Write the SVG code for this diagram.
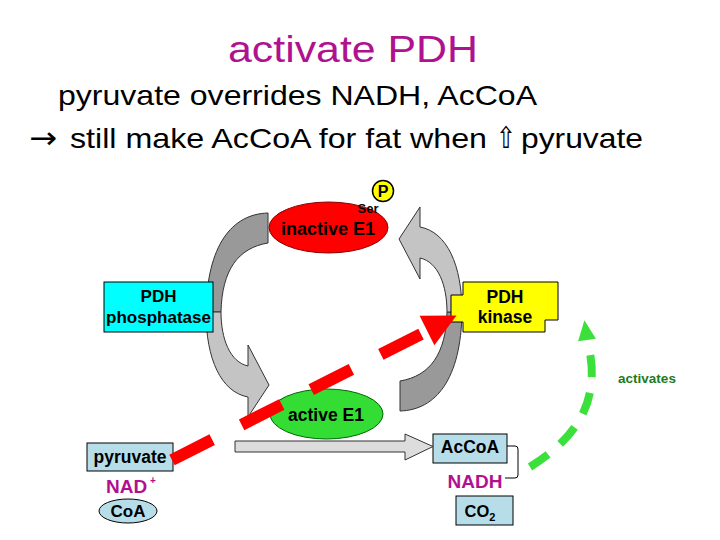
<svg xmlns="http://www.w3.org/2000/svg" width="720" height="540" viewBox="0 0 720 540">
<style>
text{font-family:"Liberation Sans",Arial,"DejaVu Sans",sans-serif}
.t{fill:#000;font-size:28px}
.b{font-weight:bold;fill:#000;text-anchor:middle}
.mag{fill:#B0128F}
.band{fill:#999999;stroke:#333;stroke-width:1}
.light{fill:#C4C4C4;stroke:#333;stroke-width:1}
.box{stroke:#000;stroke-width:1}
.blue{fill:#B7DEE8;stroke:#000;stroke-width:1}
</style>
<defs>
<path id="tlband" d="M268,213 C232,214 207,245 206,312 L221,312 C222,270 238,248 268,243 Z"/>
<path id="trarrow" d="M420,227 L420,207 L399,239 L420,279 L420,258 C438,262 447,285 447,312 L462,312 C462,265 447,232 420,227 Z"/>
</defs>
<rect width="720" height="540" fill="#fff"/>

<g id="title">
<text x="228" y="62" font-size="37" class="mag" textLength="250" lengthAdjust="spacingAndGlyphs">activate PDH</text>
<text x="58" y="105" class="t" textLength="479" lengthAdjust="spacingAndGlyphs">pyruvate overrides NADH, AcCoA</text>
<text y="148" class="t"><tspan x="29" font-family="DejaVu Sans, sans-serif" font-size="30" textLength="28" lengthAdjust="spacingAndGlyphs">→</tspan><tspan x="70" textLength="417" lengthAdjust="spacingAndGlyphs">still make AcCoA for fat when</tspan><tspan x="496" font-family="DejaVu Sans, sans-serif" font-size="30" textLength="20" lengthAdjust="spacingAndGlyphs">⇧</tspan><tspan x="521" textLength="122" lengthAdjust="spacingAndGlyphs">pyruvate</tspan></text>
</g>

<g id="cycle">
<use href="#tlband" class="band"/>
<use href="#tlband" class="band" transform="rotate(180 334 312)"/>
<use href="#trarrow" class="light"/>
<use href="#trarrow" class="light" transform="rotate(180 334 312)"/>
</g>

<g id="phosphatase">
<rect x="104" y="282" width="109" height="50" fill="#00FFFF" class="box"/>
<text x="158.5" y="302" class="b" font-size="17">PDH</text>
<text x="158.5" y="323" class="b" font-size="17">phosphatase</text>
</g>

<g id="kinase">
<path d="M463,282 H558 V320 H545 V332 H463 V322 H451 V295 H463 Z" fill="#FFFF00" class="box"/>
<text x="505" y="303" class="b" font-size="17.5">PDH</text>
<text x="505" y="323" class="b" font-size="17.5">kinase</text>
</g>

<g id="inactiveE1">
<ellipse cx="328.5" cy="227.5" rx="59.5" ry="25.5" fill="#FF0000" stroke="#800" stroke-width="1"/>
<text x="328" y="235" class="b" font-size="18">inactive E1</text>
<text x="368" y="213" class="b" font-size="13">Ser</text>
</g>

<g id="phosphate">
<circle cx="383" cy="191" r="10.5" fill="#FFFF00" stroke="#000" stroke-width="1.5"/>
<text x="383" y="197" class="b" font-size="16">P</text>
</g>

<g id="activeE1">
<ellipse cx="326.5" cy="414" rx="56.5" ry="25" fill="#33DD33" stroke="#060" stroke-width="1"/>
<text x="326" y="421" class="b" font-size="17.5">active E1</text>
</g>

<g id="pyruvate">
<rect x="87" y="443" width="86" height="28" class="blue"/>
<text x="130" y="463" class="b" font-size="17.5">pyruvate</text>
</g>

<g id="nad">
<text x="106" y="493" font-size="19" font-weight="bold" class="mag">NAD</text>
<text x="150" y="484" font-size="10" font-weight="bold" class="mag">+</text>
</g>

<g id="coa">
<ellipse cx="128" cy="511" rx="29" ry="12" class="blue"/>
<text x="128" y="517" class="b" font-size="17">CoA</text>
</g>

<g id="accoa">
<rect x="433" y="434" width="74" height="29" class="blue"/>
<text x="470" y="453" class="b" font-size="17.5">AcCoA</text>
</g>

<g id="nadh">
<text x="475" y="488" class="b mag" font-size="19">NADH</text>
</g>

<g id="co2">
<rect x="456" y="496" width="57" height="29" class="blue"/>
<text x="480" y="517" class="b" font-size="16.5">CO<tspan font-size="11" dy="4">2</tspan></text>
</g>

<g id="connectors">
<path d="M235,441 H405 V434 L433,446.5 L405,460 V452 H235 Z" fill="#DDDDDD" stroke="#333" stroke-width="1"/>
<path d="M507,446 H515 Q518,446 518,449 V475 Q518,478 515,478 H505" fill="none" stroke="#000" stroke-width="1"/>
<path d="M172,460 L421.9,333.7" fill="none" stroke="#FF0000" stroke-width="12" stroke-dasharray="45 33"/>
<polygon points="456.5,315.6 419.6,315.8 434.4,345.2" fill="#FF0000"/>
<path d="M530,467 C570,442 605,405 587,340" fill="none" stroke="#3BE03B" stroke-width="8" stroke-dasharray="22 16"/>
<polygon points="584.4,320.2 595.9,338.8 578.1,341.2" fill="#3BE03B"/>
<text x="647" y="383" class="b" font-size="13.5" style="fill:#1E7A1E">activates</text>
</g>
</svg>
